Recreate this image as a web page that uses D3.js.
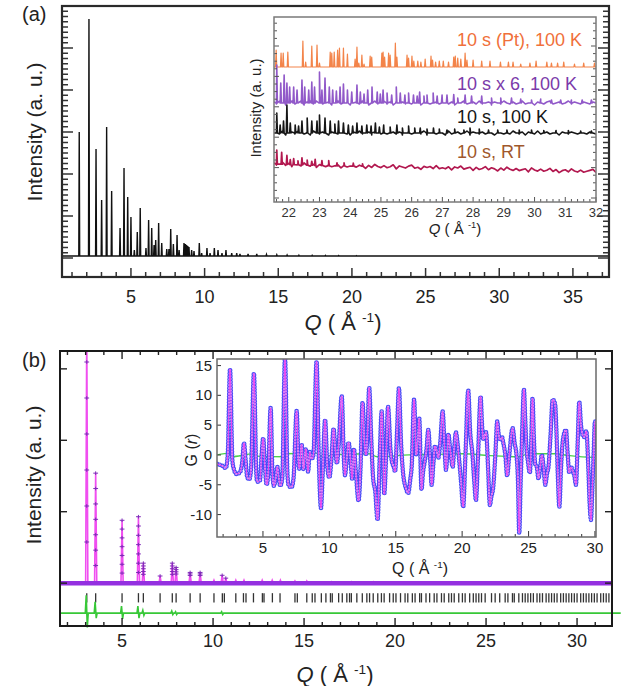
<!DOCTYPE html>
<html><head><meta charset="utf-8">
<script src="https://cdn.jsdelivr.net/npm/d3@7"></script>
<style>
body{margin:0;background:#fff;}
svg{display:block;font-family:"Liberation Sans",Arial,Helvetica,sans-serif;}
</style></head><body>
<svg id="c" width="640" height="686"></svg>
<script>
// ================= DATA =================
// Panel (a) main: Bragg peaks (Q, intensity above baseline)
const aPeakQ=[1.49,2.15,2.63,3.01,3.35,3.69,4.26,4.53,4.78,5.00,5.23,5.43,5.63,6.02,6.20,6.41,6.57,6.68,6.88,7.09,7.43,7.58,7.70,7.88,8.13,8.27,8.60,8.70,8.78,8.86,8.94,9.12,9.28,9.64,9.80,10.16,10.37,10.66,10.91,11.18,11.45,11.84,12.18,12.40,12.95,13.54,14.20,14.90,15.60,16.40,17.30,18.20,19.10,20.30];
const aPeakI=[124,237,107,56,129,65,28,88,59,39,6,24,48,8,36,28,11,16,33,13,7,7,27,12,21,6,13,12,11,10,9,6,5,13,3,8,3,8,6,3,6,3,3,2,2,2,1.5,1.2,1,0.8,0.7,0.6,0.5,0.4];
const aXTicks=[5,10,15,20,25,30,35];
const aXLabels=["5","10","15","20","25","30","35"];

// Panel (a) inset: four patterns
const insetNames=["10 s (Pt), 100 K","10 s x 6, 100 K","10 s, 100 K","10 s, RT"];
const ptQ=[21.59,21.75,21.82,21.97,22.46,22.55,22.75,22.92,23.00,23.35,23.40,23.48,23.59,23.65,23.78,23.91,24.16,24.22,24.28,24.38,24.45,24.65,24.70,25.03,25.07,25.12,25.25,25.30,25.47,25.52,25.85,25.90,26.01,26.07,26.20,26.30,26.44,26.63,26.68,26.78,26.90,27.03,27.20,27.37,27.42,27.50,27.60,27.74,27.80,28.00,28.28,28.55,28.89,29.15,29.30,29.55,29.85,30.05,30.40,30.55,30.75,30.95,31.30,31.60,31.95];
const ptI=[17,14,14,15,26,5,21,22,4,15,14,15,17,19,19,13,8,20,4,12,3,11,10,14,15,10,14,12,24,10,12,9,11,6,6,5,8,11,7,5,6,6,5,10,11,9,8,14,7,7,6,6,5,5,5,3,4,6,5,4,4,5,3,4,4];
const sumQ=[21.61,21.74,21.85,21.94,22.03,22.16,22.27,22.43,22.52,22.65,22.75,22.84,23.00,23.08,23.18,23.32,23.43,23.55,23.67,23.78,23.91,24.05,24.22,24.33,24.45,24.57,24.71,24.88,24.98,25.07,25.20,25.35,25.50,25.63,25.78,25.90,26.06,26.18,26.26,26.40,26.50,26.70,26.83,26.99,27.15,27.37,27.50,27.74,27.95,28.28,28.60,28.90,29.25,29.55,29.90,30.20,30.55,30.85,31.20,31.55,31.85];
const sumI=[38,20,28,20,16,16,13,23,16,13,21,16,31,13,25,16,13,12,16,19,13,11,18,11,9,13,16,11,9,13,10,8,16,10,8,10,8,7,11,7,8,10,7,8,8,8.5,5,8,7,7,5,5,5,4,3,4,3,3,3,3,3];
const lowQ=[21.61,21.72,21.83,21.94,22.05,22.21,22.32,22.43,22.60,22.75,22.92,23.00,23.18,23.35,23.50,23.62,23.78,23.94,24.08,24.22,24.38,24.54,24.68,24.82,24.95,25.09,25.30,25.52,25.70,25.90,26.10,26.28,26.50,26.71,26.90,27.15,27.40,27.70,27.90,28.20,28.50,28.80,29.10,29.50,29.90,30.30,30.70,31.10,31.50,31.85];
const lowI=[20,8,12,28,10,8,7,12,15,12,12,18,15,12,9,12,10,8,7,10,7,8,7,10,6,8,6,8,5,7,5,5,4,5,4,3,4,3,5,4,3,3,3,3,3,2.5,2.5,2.5,2,2];
const rtQ=[21.61,21.77,21.94,22.05,22.16,22.30,22.43,22.60,22.75,22.86,23.08,23.30,23.57,23.80,24.10,24.40];
const rtI=[14,12,9,5,6,4,7,5,4,6,5,5,3,3,3,2.5];
const sumNoise=[1,-1,2,0,-2,1,2,-1,0,2,-2,1,2,-1,2,0,-1,2,1,-2,0,2,-1,1,2,-2,0,1,-1,2,0,-2,1,2,-1,0,2,-1,1,-2,2,0,1,-1,2,-1,0,1,-2,1,2,-1,0,1,-1,2,0,-1,1,-2,1,0,2,-1,0,1,-1,2,-1,0,1,-2,1,0,-1,2,0,-1,1,-1,0,2,-1,0,1,-2,1,0,-1,1,2,-1,0,1,-1,0,2,-1,1,0,-1,1,0,-1,1,0];
const lowNoise=[0,1,-1,2,-2,0,1,-1,2,0,-1,1,-2,2,0,-1,1,0,-2,1,2,-1,0,1,-1,-2,1,0,2,-1,0,1,-2,1,0,-1,2,-1,0,1,-1,1,-2,0,2,-1,1,0,-1,2,-2,0,1,-1,1,0,-2,2,-1,0,1,-1,0,2,-2,1,0,-1,1,-1,2,0,-2,1,0,-1,1,-1,2,0,-1,1,-2,1,0,-1,2,-1,0,1,-1,0,1,-2,1,0,-1,1,0,-1,1,0,-1,1,0,-1];
const rtNoise=[1,-1,0,2,-1,1,-2,0,1,-1,2,0,-1,1,-2,1,0,-1,2,-1,0,1,-2,1,-1,0,2,-1,1,0,-2,1,-1,2,0,-1,1,-1,0,2,-2,1,0,-1,1,2,-1,0,-2,1,0,1,-1,2,-1,0,-1,1,-2,1,0,2,-1,0,1,-2,1,-1,0,2,-1,1,0,-2,1,-1,2,0,-1,1,-1,0,1,-2,2,0,-1,1,-1,0,2,-1,1,-2,0,1,-1,2,0,-1,1,-1,0,1,2,-1];
const traceLevel=[135,99,69];          // baseline levels of Pt, x6, 10 s traces
const rtBaseQ=[21.5,23,25.2,28,30,32]; // sloping baseline of the RT trace
const rtBaseV=[38,36.5,35.3,33.7,32,30.5];
const insAXTicks=[22,23,24,25,26,27,28,29,30,31,32];
const insAXLabels=["22","23","24","25","26","27","28","29","30","31","32"];

// Panel (b) main: refinement
const bPeakQ=[3.06,3.55,5.00,5.90,6.17,7.09,7.76,7.97,8.74,9.29,10.05,10.50,10.70,11.25,11.70,12.70,13.25,13.70,14.50,15.15,16.50,17.60,18.80,20.30,21.50];
const bPeakI=[3.6,1.54,0.88,0.93,0.28,0.10,0.28,0.22,0.15,0.15,0.04,0.11,0.07,0.04,0.04,0.04,0.04,0.04,0.03,0.03,0.02,0.02,0.02,0.015,0.015];
const reflQ=[3.06,3.55,5.0,5.9,6.17,7.09,7.76,7.97,8.74,9.29,10.05,10.51,10.62,11.25,11.67,11.81,12.22,12.71,12.8,13.26,13.68,14.5,14.63,15.15,15.45,15.6,15.95,16.2,16.45,16.55,16.9,17.1,17.35,17.5,17.6,17.9,18.2,18.45,18.6,18.8,19.05,19.25,19.4,19.7,19.9,20.05,20.3,20.55,20.7,20.95,21.1,21.35,21.45,21.7,21.9,22.15,22.3,22.55,22.7,22.95,23.1,23.25,23.5,23.7,23.85,24.1,24.3,24.45,24.6,24.75,24.95,25.3,25.5,25.75,26.05,26.2,26.45,26.55,26.8,27.0,27.15,27.3,27.45,27.6,27.8,27.95,28.1,28.3,28.45,28.6,28.75,28.9,29.1,29.25,29.4,29.55,29.7,29.85,30.0,30.2,30.35,30.5,30.65,30.8,30.95,31.1,31.3,31.45,31.6,31.75,31.9];
const diffQ=[3.06,3.55,5.0,5.9,6.17,7.76,7.97,10.5];
const diffUp=[0.25,0.16,0.10,0.10,0.04,0.03,0.02,0.02];
const diffDown=[0.20,0.07,0.08,0.07,0.03,0.02,0.02,0.02];
const crossFrac=[1,0.86,0.72,0.58,0.44,0.3,0.16];
const bXTicks=[5,10,15,20,25,30];
const bXLabels=["5","10","15","20","25","30"];

// Panel (b) inset: G(r)
const gR=[1.54,2.0,2.2,2.35,2.52,2.7,2.8,3.0,3.25,3.45,3.57,3.7,3.82,3.97,4.1,4.32,4.5,4.57,4.77,4.9,5.02,5.15,5.28,5.4,5.58,5.72,5.83,5.95,6.08,6.2,6.3,6.45,6.66,6.85,6.95,7.15,7.3,7.54,7.68,7.74,7.91,8.05,8.23,8.4,8.53,8.66,8.8,9.04,9.2,9.37,9.5,9.68,9.85,10.0,10.15,10.32,10.45,10.57,10.7,10.93,11.1,11.18,11.3,11.45,11.6,11.72,11.85,12.0,12.2,12.35,12.5,12.65,12.76,12.88,13.0,13.15,13.3,13.45,13.63,13.8,13.94,14.05,14.13,14.28,14.42,14.6,14.7,14.85,14.95,15.1,15.24,15.4,15.55,15.77,15.94,16.1,16.2,16.38,16.55,16.65,16.77,16.94,17.05,17.19,17.32,17.45,17.6,17.7,17.85,17.95,18.1,18.2,18.35,18.53,18.7,18.78,18.9,18.96,19.1,19.29,19.4,19.53,19.65,19.78,19.9,20.08,20.25,20.46,20.6,20.78,20.9,21.04,21.2,21.39,21.5,21.6,21.8,21.95,22.09,22.2,22.34,22.5,22.64,22.75,22.84,23.0,23.1,23.25,23.39,23.55,23.8,23.95,24.1,24.2,24.3,24.4,24.47,24.55,24.65,24.75,24.85,24.95,25.1,25.2,25.3,25.4,25.5,25.62,25.75,25.88,26.0,26.13,26.26,26.4,26.5,26.65,26.82,27.0,27.1,27.2,27.32,27.45,27.6,27.82,27.95,28.07,28.2,28.3,28.45,28.57,28.7,28.82,28.95,29.1,29.2,29.35,29.5,29.6,29.7,29.8,29.9,30.0,30.08];
const gV=[-1.5,-1.9,-2.2,0,14.4,-1.0,-2.3,-3.2,-3.0,-1.0,2.0,-1.0,-3.8,-4.1,-2.5,13.7,-3.0,-4.5,-4.3,0,2.8,-2.0,-5.0,-3.0,7.9,-3.5,-5.2,-4.0,-2.0,-4.0,-5.2,-4.0,16.2,-3.5,-5.2,-5.4,-4.0,7.4,-1.5,-2.3,1.8,-2.4,1.0,-2.8,0.5,-0.7,0,15.7,0,-8.9,-3,5.9,-2,-3.8,-1,4.4,1,-1.4,1.5,9.9,-1.0,-3.4,-1,2.1,-1.0,-4.0,1.0,-3,-7.7,-2,8.8,2,0,4,11.3,3,-4,-6,-10.9,0,7.3,0,-6.6,0,8.1,1,-1.0,-2,-2.8,4,11.2,2,-3,-5.6,-6.4,-4,-2,9.3,0,2,6.1,-5.8,-3,-1,1,4.2,-1,-5.0,-1,1.5,0.5,-0.5,2,7.3,0,-2.5,1,3.5,1,-2.0,1,3.8,2,-1,-4,-8.7,0,10.8,4,0,-4,-7.6,0,9.8,5,2.6,3.8,-2,-8.4,-7,-5.4,0,5.6,3.5,2.5,3,2,0,-3.5,0,4.5,2,-0.2,-4,-13.1,-5,0,6,11.0,6,1,-1,-3,2,9.5,3,-1.5,-2,-4,-2,0,-2,-5,-3,-2,3,9.3,8.5,4,-3,-8.7,-2,2.7,4.2,0,-3,-2,-2.5,-3.5,-5,2,8.9,5,3.2,3,4,-2,-8,-10.9,-6,0,5.6,5.6];
const gDiffR=[1.54,2.5,2.6,4.3,4.4,6.7,6.8,9.0,9.4,11,13.0,13.6,16,18,20.1,22,24.3,25,27,28,29.7,30.08];
const gDiffV=[0,0.3,-0.3,0.2,-0.2,-0.3,0.2,0.3,-0.2,0.1,0.2,-0.3,0,0.1,0.2,-0.1,-0.3,0.2,0.2,-0.1,-0.4,0];
const gYTicks=[15,10,5,0,-5,-10];
const gYLabels=["15","10","5","0","-5","-10"];
const gXTicks=[5,10,15,20,25,30];
const gXLabels=["5","10","15","20","25","30"];

// ================= DRAWING =================
const svg=d3.select("#c");
const zip=(a,b)=>a.slice(0,Math.min(a.length,b.length)).map((v,i)=>[v,b[i]]);
function spikes(peaks,hw,lo,hi,base){
  const pts=[[lo,base(lo)]];
  peaks.slice().sort((p,q)=>p[0]-q[0]).forEach(([q,h])=>{
    pts.push([q-hw,base(q-hw)],[q,base(q)+h],[q+hw,base(q+hw)]);
  });
  pts.push([hi,base(hi)]);
  return pts;
}
function tickLines(g,segs,color,w){
  g.selectAll(null).data(segs).join("line")
   .attr("x1",d=>d[0]).attr("y1",d=>d[1]).attr("x2",d=>d[2]).attr("y2",d=>d[3])
   .attr("stroke",color).attr("stroke-width",w);
}
function qTitle(g,x,y,size,italic){
  const t=g.append("text").attr("x",x).attr("y",y).attr("text-anchor","middle")
    .attr("font-size",size).attr("fill","#222");
  t.append("tspan").text("Q").attr("font-style",italic?"italic":"normal");
  t.append("tspan").text(" ( Å ");
  t.append("tspan").text("-1").attr("font-size",size*0.62).attr("dy",-size*0.38);
  t.append("tspan").text(")").attr("dy",size*0.38);
}
function yTitle(g,x,y,size,txt){
  g.append("text").attr("transform",`translate(${x},${y}) rotate(-90)`)
   .attr("text-anchor","middle").attr("font-size",size).attr("fill","#222").text(txt);
}

// ---------- Panel (a) ----------
const A={l:62,r:609,t:6,b:277};
const xA=d3.scaleLinear().domain([0.32,37.45]).range([A.l,A.r]);
const yA=d3.scaleLinear().domain([-21,250]).range([A.b,A.t]);
const gA=svg.append("g");
gA.append("clipPath").attr("id","clipA").append("rect").attr("x",A.l).attr("y",A.t).attr("width",A.r-A.l).attr("height",A.b-A.t);
const lineA=d3.line().x(d=>xA(d[0])).y(d=>yA(d[1]));
gA.append("path").attr("clip-path","url(#clipA)")
  .attr("d",lineA(spikes(zip(aPeakQ,aPeakI),0.03,0.32,37.45,()=>0)))
  .attr("fill","none").attr("stroke","#111").attr("stroke-width",1.4);
// ticks
{
  const segs=[];
  d3.range(1,38).forEach(v=>{const x=xA(v),L=aXTicks.includes(v)?9:5;segs.push([x,A.b,x,A.b-L]);});
  d3.range(0,52).forEach(i=>{const v=-2+i*5.25;if(v>248)return;const y=yA(v),L=(i%8===0)?11:6;
     segs.push([A.l,y,A.l+L,y]);segs.push([A.r,y,A.r-L,y]);});
  tickLines(gA,segs,"#333",1.5);
}
gA.append("rect").attr("x",A.l).attr("y",A.t).attr("width",A.r-A.l).attr("height",A.b-A.t)
  .attr("fill","none").attr("stroke","#2a2a2a").attr("stroke-width",2.2);
gA.selectAll(null).data(zip(aXTicks,aXLabels)).join("text")
  .attr("x",d=>xA(d[0])).attr("y",303).attr("text-anchor","middle").attr("font-size",18).attr("fill","#222").text(d=>d[1]);
qTitle(gA,343,330,22,true);
yTitle(gA,42,132,21,"Intensity (a. u.)");
svg.append("text").attr("x",22).attr("y",21).attr("font-size",20).attr("fill","#222").text("(a)");

// ---------- Panel (a) inset ----------
const I={l:274,r:596,t:17,b:202};
const xI=d3.scaleLinear().domain([21.52,32.0]).range([I.l,I.r]);
const yI=d3.scaleLinear().domain([0,185]).range([I.b,I.t]);
const gI=svg.append("g");
gI.append("rect").attr("x",I.l).attr("y",I.t).attr("width",I.r-I.l).attr("height",I.b-I.t).attr("fill","#fff");
gI.append("clipPath").attr("id","clipI").append("rect").attr("x",I.l).attr("y",I.t).attr("width",I.r-I.l).attr("height",I.b-I.t);
const lineI=d3.line().x(d=>xI(d[0])).y(d=>yI(d[1]));
const rtBase=d3.scaleLinear().domain(rtBaseQ).range(rtBaseV);
function noisyTrace(peaks,noise,base){
  const pts=noise.map((n,i)=>[21.5+i*0.1,base(21.5+i*0.1)+n]);
  peaks.forEach(([q,h])=>{pts.push([q-0.02,base(q)],[q,base(q)+h],[q+0.02,base(q)]);});
  return pts.sort((a,b)=>a[0]-b[0]);
}
const traces=[
  {pts:spikes(zip(ptQ,ptI),0.02,21.5,32.05,()=>traceLevel[0]),c:"#f3844a",w:1.2},
  {pts:noisyTrace(zip(sumQ,sumI),sumNoise,()=>traceLevel[1]),c:"#9159c9",w:1.6},
  {pts:noisyTrace(zip(lowQ,lowI),lowNoise,()=>traceLevel[2]),c:"#161616",w:1.6},
  {pts:noisyTrace(zip(rtQ,rtI),rtNoise,q=>rtBase(q)),c:"#b2184f",w:1.7}
];
gI.selectAll(null).data(traces).join("path").attr("clip-path","url(#clipI)")
  .attr("d",d=>lineI(d.pts)).attr("fill","none").attr("stroke",d=>d.c).attr("stroke-width",d=>d.w).attr("stroke-linejoin","round");
{
  const segs=[];
  d3.range(0,53).forEach(i=>{const v=21.6+i*0.2;if(v>32.01)return;const x=xI(v),L=(Math.abs(v-Math.round(v))<0.01)?5:3;segs.push([x,I.b,x,I.b-L]);});
  d3.range(0,25).forEach(i=>{const y=I.b-4-i*7.6;if(y<I.t+2)return;const L=(i%4===0)?5:3;segs.push([I.l,y,I.l+L,y]);segs.push([I.r,y,I.r-L,y]);});
  tickLines(gI,segs,"#555",1);
}
gI.append("rect").attr("x",I.l).attr("y",I.t).attr("width",I.r-I.l).attr("height",I.b-I.t)
  .attr("fill","none").attr("stroke","#7a7a7a").attr("stroke-width",1.5);
gI.selectAll(null).data(zip(insAXTicks,insAXLabels)).join("text")
  .attr("x",d=>xI(d[0])).attr("y",217).attr("text-anchor","middle").attr("font-size",13).attr("fill","#333").text(d=>d[1]);
qTitle(gI,455,234,15,true);
yTitle(gI,261,108,15,"Intensity (a. u.)");
const labY=[46,90,123,158], labC=["#f0703a","#7b3aaa","#151515","#a0582c"];
gI.selectAll(null).data(insetNames).join("text").attr("x",457).attr("y",(d,i)=>labY[i])
  .attr("font-size",18).attr("fill",(d,i)=>labC[i]).text(d=>d);

// ---------- Panel (b) ----------
const B={l:60,r:612,t:351,b:626};
const xB=d3.scaleLinear().domain([1.59,31.92]).range([B.l,B.r]);
const yB=d3.scaleLinear().domain([-0.6,3.25]).range([B.b,B.t]);
const gB=svg.append("g");
gB.append("clipPath").attr("id","clipB").append("rect").attr("x",B.l).attr("y",B.t).attr("width",B.r-B.l).attr("height",B.b-B.t);
const lineB=d3.line().x(d=>xB(d[0])).y(d=>yB(d[1]));
const peaksB=zip(bPeakQ,bPeakI);
// calculated (pink)
gB.append("path").attr("clip-path","url(#clipB)").attr("d",lineB(spikes(peaksB,0.06,1.59,31.92,()=>0)))
  .attr("fill","none").attr("stroke","#f04ef0").attr("stroke-width",1.6);
// observed baseline band (purple)
gB.append("path").attr("clip-path","url(#clipB)").attr("d",lineB([[1.59,0],[31.92,0]]))
  .attr("stroke","#9430e0").attr("stroke-width",4.5);
// observed points (crosses) along peaks
{
  const cr=[];
  peaksB.forEach(([q,h])=>{crossFrac.forEach(f=>{ if(h*f>0.1||(f===1&&h>0.05)) cr.push([q,h*f]); });});
  const g=gB.append("g").attr("clip-path","url(#clipB)");
  g.selectAll(null).data(cr).join("path")
   .attr("d",d=>{const x=xB(d[0]),y=yB(d[1]);return `M${x-2.4},${y}H${x+2.4}M${x},${y-1.8}V${y+1.8}`;})
   .attr("stroke","#7e2bb8").attr("stroke-width",1);
}
// reflection markers
tickLines(gB,reflQ.map(q=>[xB(q),yB(-0.14),xB(q),yB(-0.27)]),"#333",1.3);
// difference (green)
{
  const pts=[[1.59,-0.42]];
  zip(diffQ,diffUp).forEach(([q,u],i)=>{pts.push([q-0.08,-0.42],[q-0.03,-0.42+u],[q+0.03,-0.42-diffDown[i]],[q+0.08,-0.42]);});
  pts.push([32.4,-0.42]);
  gB.append("path").attr("d",lineB(pts)).attr("fill","none").attr("stroke","#37c837").attr("stroke-width",1.6);
}
{
  const segs=[];
  d3.range(2,32).forEach(v=>{const x=xB(v),L=bXTicks.includes(v)?8:4;segs.push([x,B.b,x,B.b-L]);segs.push([x,B.t,x,B.t+L]);});
  [0,1,2,3].forEach(v=>{const y=yB(v);segs.push([B.l,y,B.l+7,y]);segs.push([B.r,y,B.r-7,y]);});
  tickLines(gB,segs,"#222",1.4);
}
gB.append("rect").attr("x",B.l).attr("y",B.t).attr("width",B.r-B.l).attr("height",B.b-B.t)
  .attr("fill","none").attr("stroke","#1a1a1a").attr("stroke-width",2);
gB.selectAll(null).data(zip(bXTicks,bXLabels)).join("text")
  .attr("x",d=>xB(d[0])).attr("y",647).attr("text-anchor","middle").attr("font-size",18).attr("fill","#222").text(d=>d[1]);
qTitle(gB,335,682,22,true);
yTitle(gB,41,475,21,"Intensity (a. u.)");
svg.append("text").attr("x",22).attr("y",367).attr("font-size",20).attr("fill","#222").text("(b)");

// ---------- Panel (b) inset ----------
const G={l:217,r:596,t:359,b:537};
const xG=d3.scaleLinear().domain([1.54,30.08]).range([G.l,G.r]);
const yG=d3.scaleLinear().domain([-13.77,16.1]).range([G.b,G.t]);
const gG=svg.append("g");
gG.append("rect").attr("x",G.l).attr("y",G.t).attr("width",G.r-G.l).attr("height",G.b-G.t).attr("fill","#fff");
gG.append("clipPath").attr("id","clipG").append("rect").attr("x",G.l).attr("y",G.t).attr("width",G.r-G.l).attr("height",G.b-G.t);
const lineG=d3.line().x(d=>xG(d[0])).y(d=>yG(d[1])).curve(d3.curveMonotoneX);
const gd=lineG(zip(gR,gV));
gG.append("path").attr("clip-path","url(#clipG)").attr("d",lineG(zip(gDiffR,gDiffV)))
  .attr("fill","none").attr("stroke","#4ccf4c").attr("stroke-width",1.3);
const gc=gG.append("g").attr("clip-path","url(#clipG)");
gc.append("path").attr("d",gd).attr("fill","none").attr("stroke","#4a4af6").attr("stroke-width",4.6)
  .attr("stroke-linecap","round").attr("stroke-dasharray","0 2.9");
gc.append("path").attr("d",gd).attr("fill","none").attr("stroke","#d4c6ff").attr("stroke-width",2.2)
  .attr("stroke-linecap","round").attr("stroke-dasharray","0 2.9");
gc.append("path").attr("d",gd).attr("fill","none").attr("stroke","#f03cf0").attr("stroke-width",1);
{
  const segs=[];
  d3.range(2,31).forEach(v=>{const x=xG(v),L=gXTicks.includes(v)?6:3;segs.push([x,G.b,x,G.b-L]);});
  gYTicks.forEach(v=>{const y=yG(v);segs.push([G.l,y,G.l+4,y]);});
  tickLines(gG,segs,"#444",1.1);
}
gG.append("rect").attr("x",G.l).attr("y",G.t).attr("width",G.r-G.l).attr("height",G.b-G.t)
  .attr("fill","none").attr("stroke","#6a6a6a").attr("stroke-width",1.5);
gG.selectAll(null).data(zip(gYTicks,gYLabels)).join("text")
  .attr("x",212).attr("y",d=>yG(d[0])+5).attr("text-anchor","end").attr("font-size",15).attr("fill","#222").text(d=>d[1]);
gG.selectAll(null).data(zip(gXTicks,gXLabels)).join("text")
  .attr("x",d=>xG(d[0])).attr("y",553).attr("text-anchor","middle").attr("font-size",15).attr("fill","#222").text(d=>d[1]);
qTitle(gG,420,574,16,false);
{
  const t=gG.append("text").attr("transform","translate(197,450) rotate(-90)").attr("text-anchor","middle")
    .attr("font-size",16).attr("fill","#222");
  t.append("tspan").text("G (");
  t.append("tspan").text("r").attr("font-style","italic");
  t.append("tspan").text(")");
}
</script>
</body></html>
